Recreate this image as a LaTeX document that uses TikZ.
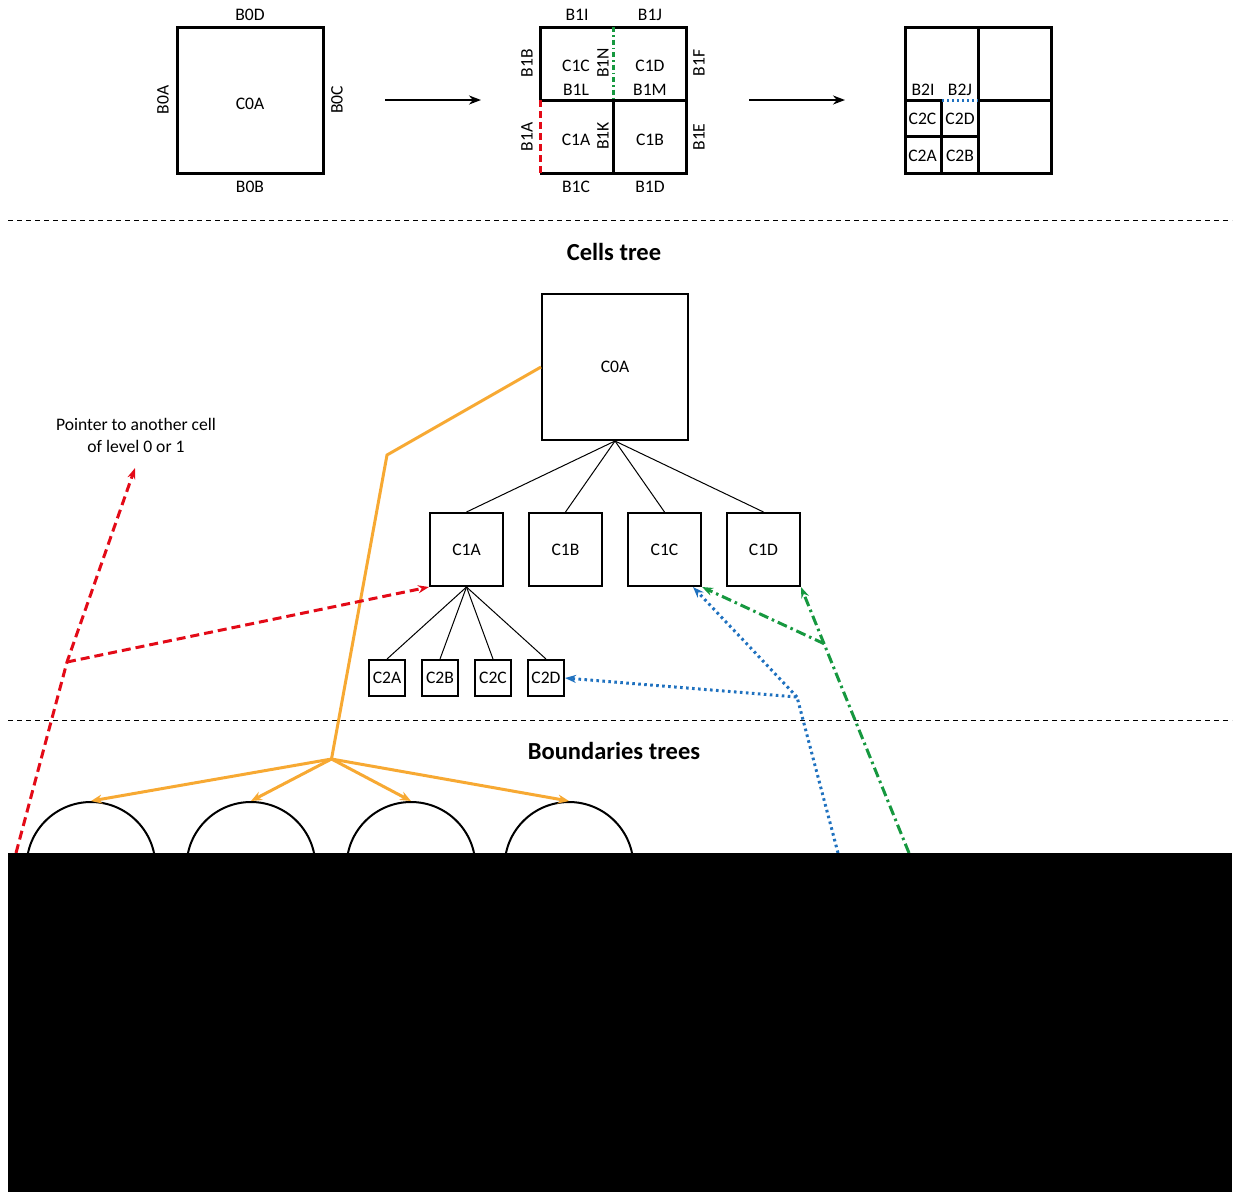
\documentclass[tikz,border=0pt]{standalone}
\usepackage{fontspec}
\setmainfont{Carlito}
\usetikzlibrary{arrows.meta, positioning, calc}
\definecolor{ptred}{HTML}{E30A17}
\definecolor{ptorange}{HTML}{F7A933}
\definecolor{ptblue}{HTML}{1F71BF}
\definecolor{ptgreen}{HTML}{16983F}

\begin{document}
\begin{tikzpicture}[x={(1pt,0pt)}, y={(0pt,-1pt)},
    font=\fontsize{17.6}{22}\selectfont, line join=miter,
    frame/.style={line width=3pt},
    cell/.style={draw, line width=2pt, inner sep=0pt, minimum size=#1},
    link/.style={line width=1pt},
    sep/.style={line width=1pt, dash pattern=on 5pt off 4pt},
    title/.style={font=\bfseries\fontsize{24.5}{28}\selectfont},
    tip/.style={-{Stealth[length=11pt, width=8pt]}},
    redptr/.style={ptred, line width=3pt, dash pattern=on 9pt off 5pt, tip},
    blueptr/.style={ptblue, line width=3pt, dash pattern=on 2.6pt off 3.4pt, tip},
    greenptr/.style={ptgreen, line width=3pt, dash pattern=on 10pt off 4pt on 2.5pt off 4pt, tip},
    bndptr/.style={ptorange, line width=3pt, -{Stealth[length=11pt, width=9pt]}}]
  \useasboundingbox (0,0) rectangle (1233,1192);
  % subdivision of the cell
  \draw[frame] (177,27) rectangle (323,173);
  \draw[frame] (540,100) -- (540,27) -- (686,27) -- (686,173) -- (540,173);
  \draw[frame] (540,100) -- (686,100) (613,100) -- (613,173);
  \draw[frame, ptred, dash pattern=on 7pt off 4pt] (540,100) -- (540,173);
  \draw[frame, ptgreen, dash pattern=on 5pt off 3pt on 1.5pt off 3pt] (613,27) -- (613,100);
  \draw[frame] (905,27) rectangle (1051,173) (978,27) -- (978,173)
    (905,100) -- (941.5,100) (978,100) -- (1051,100)
    (905,136.5) -- (978,136.5) (941.5,100) -- (941.5,173);
  \draw[ptblue, line width=3pt, dash pattern=on 2.4pt off 2.6pt] (942,100) -- (978,100);
  \coordinate (stepa) at (385,100);
  \coordinate (stepb) at (481,100);
  \coordinate (stepc) at (749,100);
  \coordinate (stepd) at (845,100);
  \draw[line width=2pt, -{Stealth[length=12pt, width=9pt]}] (stepa) -- (stepb);
  \draw[line width=2pt, -{Stealth[length=12pt, width=9pt]}] (stepc) -- (stepd);
  \foreach \txt/\px/\py in {B0D/250/15, B0B/250/187, C0A/250/104,
      B1I/577/15, B1J/650/15, C1C/576/66, C1D/650/66, B1L/576/90, B1M/650/90,
      C1A/576/140, C1B/650/140, B1C/576/187, B1D/650/187,
      B2I/923/90, B2J/960/90, C2C/922.5/119, C2D/960/119, C2A/922.5/156, C2B/960/156}
    \node (top-\txt) at (\px,\py) {\txt};
  \foreach \txt/\px/\py in {B0A/163/100, B0C/337/100, B1B/527/63, B1A/527/137,
      B1F/699/63, B1E/699/137, B1N/603/63, B1K/603/136}
    \node[rotate=90] (top-\txt) at (\px,\py) {\txt};
  \draw[sep] (8,220) -- (1232,220);
  \draw[sep] (8,720) -- (1232,720);
  \node[title] (celltitle) at (614,252) {Cells tree};
  \node[title] (bndtitle) at (614,751) {Boundaries trees};
  % cells tree
  \node[cell=146] (c0a) at (615,367) {C0A};
  \foreach \n/\N/\px in {a/A/466.5, b/B/565.5, c/C/664.5, d/D/763.5} {
    \node[cell=73] (c1\n) at (\px,549.5) {C1\N};
    \draw[link] (c0a.south) -- (c1\n.north);
  }
  \foreach \n/\N/\px in {a/A/387, b/B/440, c/C/493, d/D/546} {
    \node[cell=36] (c2\n) at (\px,678) {C2\N};
    \draw[link] (c1a.south) -- (c2\n.north);
  }
  % boundaries trees
  \foreach \n/\px in {1/91, 2/251, 3/411, 4/569}
    \node[circle, draw, line width=2pt, minimum size=128.8, inner sep=0pt] (arc\n) at (\px,866.4) {};
  \coordinate (obend) at (387,455);
  \coordinate (ohub) at (331.5,759);
  \draw[ptorange, line width=3pt] (c0a.west) -- (obend) -- (ohub);
  \foreach \n in {1,...,4}
    \draw[bndptr] (ohub) -- (arc\n.north);
  % pointers
  \node[align=center] (ptrtext) at (136,435) {Pointer to another cell\\of level 0 or 1};
  \coordinate (rstart) at (16,853);
  \coordinate (rfork) at (67,662);
  \coordinate (rend) at (135,468);
  \draw[redptr] (rstart) -- (rfork) -- (rend);
  \draw[redptr] (rfork) -- (c1a.south west);
  \coordinate (bstart) at (838,853);
  \coordinate (bfork) at (797,697);
  \draw[blueptr] (bstart) -- (bfork) -- (c2d.east);
  \draw[blueptr] (bfork) -- ([xshift=-9pt]c1c.south east);
  \coordinate (gstart) at (909,853);
  \coordinate (gfork) at ($(gstart)!0.787!(c1d.south east)$);
  \draw[greenptr] (gstart) -- (c1d.south east);
  \draw[greenptr] (gfork) -- (c1c.south east);
  \fill[black] (8,853) rectangle (1232,1192);
\end{tikzpicture}
\end{document}
